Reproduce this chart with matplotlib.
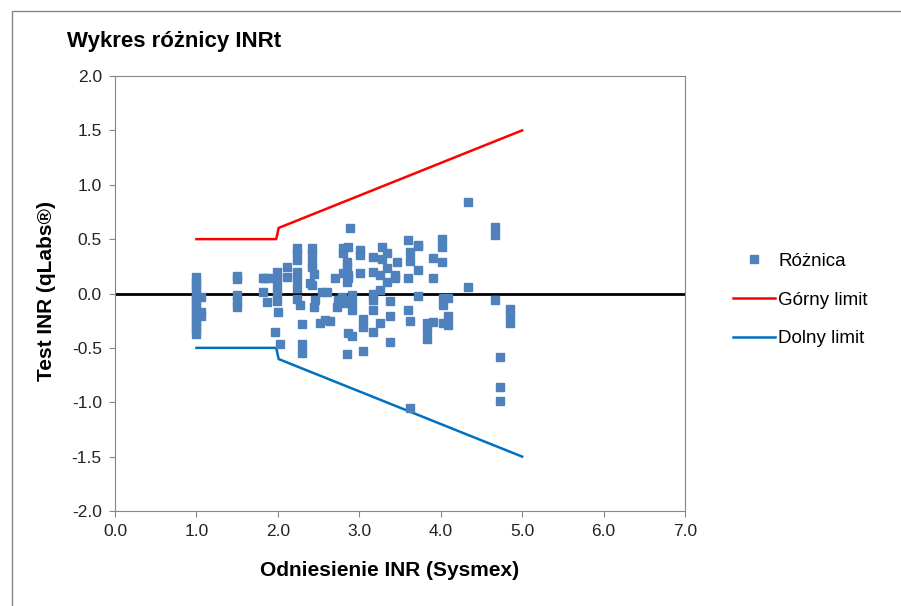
import matplotlib.pyplot as plt
from matplotlib.patches import Rectangle

plt.rcParams['font.family'] = ['Liberation Sans', 'DejaVu Sans']

# Różnica (difference) points: reference INR vs test difference
ref_x = [1.0, 1.0, 1.0, 1.0, 1.0, 1.0, 1.0, 1.0, 1.0, 1.0, 1.0, 1.0, 1.0, 1.0,
         1.05, 1.05, 1.05,
         1.5, 1.5, 1.5, 1.5, 1.5,
         1.82, 1.82, 1.84, 1.87, 1.88,
         1.96, 1.99, 1.99, 1.99, 1.99, 1.99, 2.0, 2.03,
         2.11, 2.11, 2.23, 2.23, 2.23, 2.23, 2.23, 2.23, 2.23, 2.27,
         2.3, 2.3, 2.3,
         2.39, 2.42, 2.42, 2.42, 2.42, 2.42, 2.44, 2.46, 2.44,
         2.52, 2.54, 2.58, 2.6, 2.64,
         2.7, 2.73, 2.74, 2.79, 2.8, 2.8, 2.8, 2.82,
         2.85, 2.85, 2.85, 2.85, 2.85, 2.86, 2.86, 2.86, 2.86,
         2.89, 2.91, 2.91, 2.91, 2.91,
         3.01, 3.01, 3.01, 3.05, 3.05, 3.05,
         3.17, 3.17, 3.17, 3.17, 3.17, 3.17,
         3.25, 3.25, 3.25, 3.28, 3.28,
         3.34, 3.34, 3.34, 3.38, 3.38, 3.38,
         3.44, 3.44, 3.46,
         3.6, 3.6, 3.6, 3.62, 3.62, 3.62, 3.62,
         3.72, 3.72, 3.72, 3.72,
         3.83, 3.83, 3.83,
         3.91, 3.91, 3.91,
         4.02, 4.02, 4.02, 4.03, 4.03, 4.03, 4.09, 4.09, 4.09,
         4.34, 4.34,
         4.67, 4.67, 4.67,
         4.73, 4.73, 4.73,
         4.85, 4.85, 4.85]
diff_y = [0.15, 0.11, 0.07, 0.03, -0.01, -0.05, -0.09, -0.13, -0.17, -0.21, -0.25, -0.29, -0.33, -0.37,
          -0.03, -0.17, -0.21,
          0.16, 0.13, -0.01, -0.07, -0.12,
          0.14, 0.01, 0.14, -0.08, 0.14,
          -0.35, 0.2, 0.14, 0.07, 0.0, -0.07, -0.17, -0.46,
          0.24, 0.15, 0.42, 0.37, 0.31, 0.2, 0.13, 0.05, -0.05, -0.11,
          -0.28, -0.46, -0.55,
          0.1, 0.42, 0.36, 0.29, 0.24, 0.08, -0.12, -0.06, 0.18,
          -0.27, 0.01, -0.24, 0.01, -0.25,
          0.14, -0.12, -0.06, -0.03, 0.37, 0.19, 0.42, -0.09,
          0.29, 0.24, 0.11, -0.06, -0.56, 0.43, 0.17, -0.36, 0.14,
          0.6, -0.01, -0.08, -0.15, -0.39,
          0.4, 0.35, 0.19, -0.23, -0.31, -0.53,
          0.34, 0.2, 0.0, -0.06, -0.15, -0.35,
          0.17, 0.03, -0.27, 0.43, 0.32,
          0.37, 0.23, 0.11, -0.07, -0.21, -0.45,
          0.17, 0.14, 0.29,
          0.49, 0.14, -0.15, 0.38, -0.25, -1.05, 0.3,
          0.44, 0.22, -0.02, 0.45,
          -0.27, -0.34, -0.42,
          0.33, 0.14, -0.26,
          0.5, 0.43, 0.29, -0.04, -0.11, -0.27, -0.04, -0.21, -0.29,
          0.84, 0.06,
          0.61, 0.54, -0.06,
          -0.58, -0.86, -0.99,
          -0.14, -0.2, -0.27]

# Limits
lim_x = [1.0, 1.98, 2.01, 5.0]
upper_y = [0.5, 0.5, 0.603, 1.5]
lower_y = [-0.5, -0.5, -0.603, -1.5]

fig = plt.figure(figsize=(9.01, 6.06), dpi=100)
ax = fig.add_axes([115 / 901, 1 - 511 / 606, 570 / 901, 435 / 606])

gray = '#868686'
ax.axhline(0, color='black', lw=2, zorder=1)
ax.plot(ref_x, diff_y, 's', color='#4F81BD', markersize=5.5, mec='#4F81BD',
        label='Różnica', zorder=3)
ax.plot(lim_x, upper_y, color='#FF0000', lw=1.8, label='Górny limit', zorder=2)
ax.plot(lim_x, lower_y, color='#0070C0', lw=1.8, label='Dolny limit', zorder=2)

ax.set_xlim(0, 7)
ax.set_ylim(-2, 2)
ax.set_xticks([0, 1, 2, 3, 4, 5, 6, 7])
ax.set_yticks([-2, -1.5, -1, -0.5, 0, 0.5, 1, 1.5, 2])
ax.xaxis.set_major_formatter(plt.FormatStrFormatter('%.1f'))
ax.yaxis.set_major_formatter(plt.FormatStrFormatter('%.1f'))
ax.tick_params(direction='out', length=4.5, width=0.8, color=gray,
               labelsize=12.5, labelcolor='#222222', pad=5)
for s in ax.spines.values():
    s.set_color(gray)
    s.set_linewidth(0.8)

fig.text(67 / 901, 1 - 42 / 606, 'Wykres różnicy INRt', fontsize=16,
         fontweight='bold', ha='left', va='center')
fig.text(390 / 901, 1 - 570 / 606, 'Odniesienie INR (Sysmex)', fontsize=15,
         fontweight='bold', ha='center', va='center')
fig.text(47 / 901, 1 - 291 / 606, 'Test INR (qLabs®)', fontsize=15,
         fontweight='bold', ha='center', va='center', rotation=90)

fig.legend(loc='center left', bbox_to_anchor=(733 / 901, 1 - 300 / 606),
           frameon=False, fontsize=13.5, handlelength=2.25, handletextpad=0.15,
           labelspacing=1.15, borderpad=0, borderaxespad=0)

fig.patches.append(Rectangle((12 / 901, -0.1), 2, 1 - 10.5 / 606 + 0.1,
                             transform=fig.transFigure, fill=False,
                             edgecolor=gray, lw=1))

fig.savefig('out.png', dpi=100)
